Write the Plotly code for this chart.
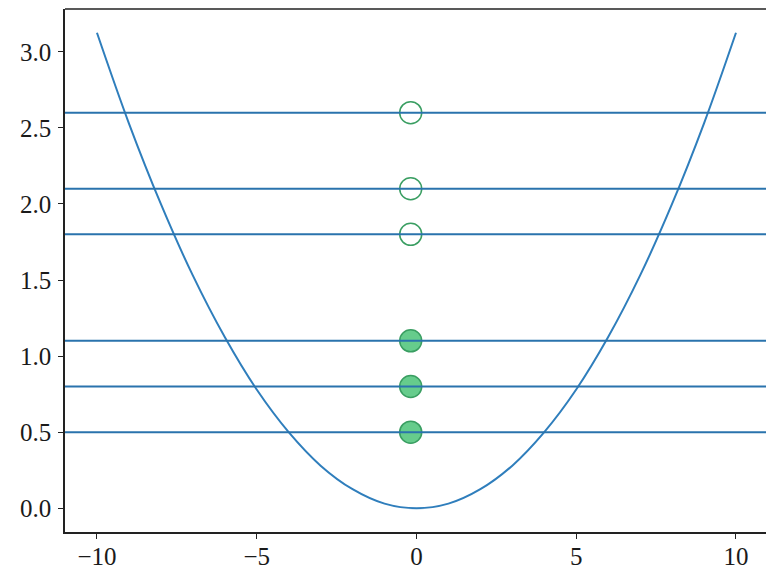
import plotly.graph_objects as go

# curve points
curve_x = [-10, -9, -8, -7, -6, -5, -4, -3, -2, -1, 0, 1, 2, 3, 4, 5, 6, 7, 8, 9, 10]
curve_y = [3.125, 2.53, 2.0, 1.53, 1.125, 0.78, 0.5, 0.28, 0.125, 0.03, 0.0,
           0.03, 0.125, 0.28, 0.5, 0.78, 1.125, 1.53, 2.0, 2.53, 3.125]

hline_y = [0.5, 0.8, 1.1, 1.8, 2.1, 2.6]
marker_x = -0.18
filled_y = [0.5, 0.8, 1.1]
open_y = [1.8, 2.1, 2.6]

x_ticks = [-10, -5, 0, 5, 10]
x_ticktext = ["\u221210", "\u22125", "0", "5", "10"]
y_ticks = [0.0, 0.5, 1.0, 1.5, 2.0, 2.5, 3.0]
y_ticktext = ["0.0", "0.5", "1.0", "1.5", "2.0", "2.5", "3.0"]

line_color = "#2a73ad"
fig = go.Figure()

for yv in hline_y:
    fig.add_hline(y=yv, line=dict(color=line_color, width=2))

fig.add_trace(go.Scatter(x=curve_x, y=curve_y, mode="lines",
                         line=dict(color="#2f7ebc", width=2, shape="spline", smoothing=1.0),
                         showlegend=False))

fig.add_trace(go.Scatter(x=[marker_x] * len(filled_y), y=filled_y, mode="markers",
                         marker=dict(size=22, color="#66cc8c",
                                     line=dict(color="#3a9e62", width=1.5)),
                         showlegend=False))
fig.add_trace(go.Scatter(x=[marker_x] * len(open_y), y=open_y, mode="markers",
                         marker=dict(size=22, color="white",
                                     line=dict(color="#3a9e62", width=1.5)),
                         showlegend=False))

# top spine (right spine lies outside the visible window in the reference)
fig.add_shape(type="line", xref="paper", yref="paper", x0=0, x1=1, y0=1, y1=1,
              line=dict(color="#222", width=1.5))

font = dict(family="Liberation Serif, serif", size=25, color="#1a1a1a")

fig.update_layout(
    width=766, height=569,
    margin=dict(l=65, r=0, t=9, b=37, autoexpand=False),
    plot_bgcolor="white", paper_bgcolor="white",
    font=font,
    xaxis=dict(range=[-11, 10.94], tickvals=x_ticks, ticktext=x_ticktext,
               showgrid=False, zeroline=False, showline=True, linecolor="#222",
               linewidth=1.5, ticks="outside", ticklen=5, automargin=False,
               ticklabelstandoff=-4,
               tickwidth=1.2, tickcolor="#222"),
    yaxis=dict(range=[-0.15625, 3.28125], tickvals=y_ticks, ticktext=y_ticktext,
               showgrid=False, zeroline=False, showline=True, linecolor="#222",
               linewidth=1.5, ticks="outside", ticklen=5, automargin=False,
               ticklabelstandoff=2,
               tickwidth=1.2, tickcolor="#222"),
)

fig.write_html("out.html")
